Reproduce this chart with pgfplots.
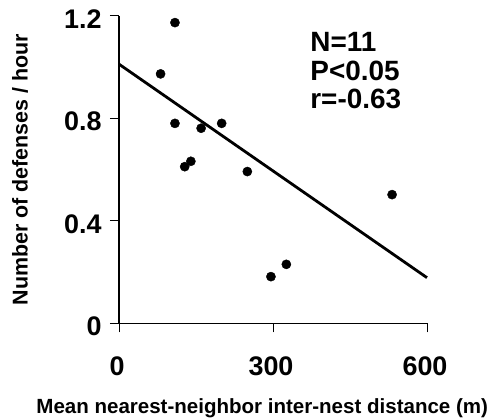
\documentclass[border=0pt]{standalone}
\usepackage{fontspec}
\setmainfont{Liberation Sans}
\usepackage{pgfplots}
\pgfplotsset{compat=1.18}

\begin{document}
\begin{tikzpicture}
\useasboundingbox (-119bp,-95.7bp) rectangle (380bp,323.3bp);
\begin{axis}[
    scale only axis,
    width=308bp,
    height=307.6bp,
    xmin=0, xmax=600,
    ymin=0, ymax=1.2,
    axis lines*=left,
    axis line style={line width=1.2bp},
    xtick={0,300,600},
    ytick={0,0.4,0.8,1.2},
    yticklabels={0,0.4,0.8,1.2},
    tick align=outside,
    major tick length=9bp,
    tick style={line width=0.8bp, black},
    /pgf/number format/assume math mode=true,
    ticklabel style={font=\bfseries\fontsize{27}{27}\selectfont},
    xticklabel style={yshift=-21bp, xshift=-2bp},
    yticklabel style={xshift=-5bp, yshift=-3bp},
    label style={font=\bfseries\fontsize{21.5}{21.5}\selectfont},
    xlabel={Mean nearest-neighbor inter-nest distance (m)},
    xlabel style={at={(axis description cs:0.465,-0.2926)}, anchor=base,
        font=\bfseries\fontsize{20.6}{20.6}\selectfont},
    ylabel={Number of defenses / hour},
    ylabel style={at={(axis description cs:-0.3214,0.5)}, anchor=center},
    clip=false,
]
% observations
\addplot[only marks, mark=*, mark size=4.6bp, black] coordinates {
(109,1.173)
(81,0.973)
(109,0.780)
(160,0.761)
(200,0.780)
(128,0.611)
(140,0.632)
(250,0.592)
(532,0.502)
(296,0.182)
(326,0.230)
};
% regression line
\addplot[line width=2.8bp, black] coordinates {(0,1.011) (600,0.178)};

\node[anchor=base west, font=\bfseries\fontsize{28}{28}\selectfont] at (axis cs:366,1.06) {N=11};
\node[anchor=base west, font=\bfseries\fontsize{28}{28}\selectfont] at (axis cs:366,0.949) {P<0.05};
\node[anchor=base west, font=\bfseries\fontsize{28}{28}\selectfont] at (axis cs:366,0.839) {r=-0.63};
\end{axis}
\end{tikzpicture}
\end{document}
